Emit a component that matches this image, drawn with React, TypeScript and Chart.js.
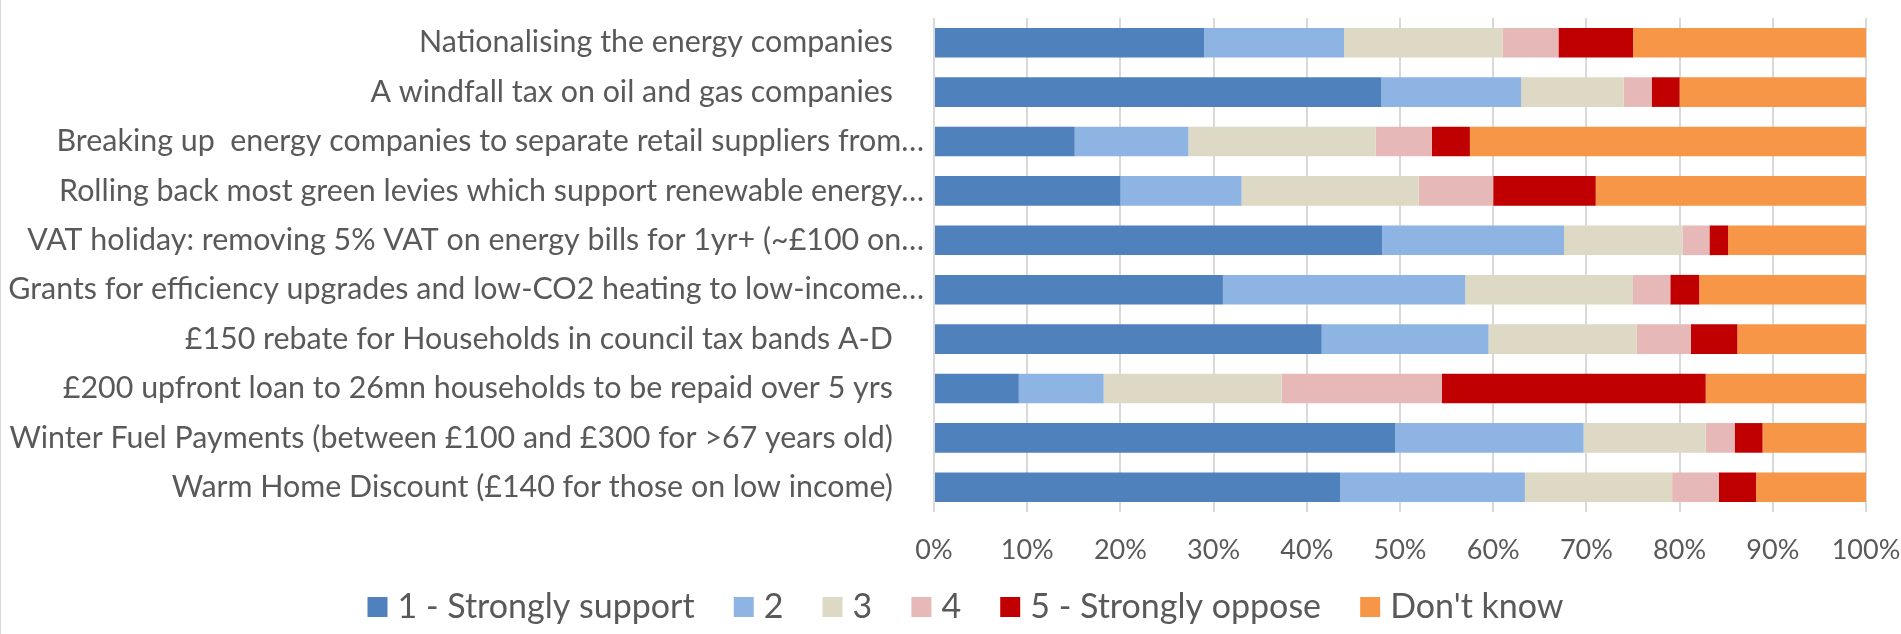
import React, { useEffect, useRef } from 'react';
import { Chart, registerables } from 'chart.js';

Chart.register(...registerables);

const categories = [
  'Nationalising the energy companies    ',
  'A windfall tax on oil and gas companies    ',
  'Breaking up  energy companies to separate retail suppliers from…',
  'Rolling back most green levies which support renewable energy…',
  'VAT holiday: removing 5% VAT on energy bills for 1yr+ (~£100 on…',
  'Grants for efficiency upgrades and low-CO2 heating to low-income…',
  '£150 rebate for Households in council tax bands A-D    ',
  '£200 upfront loan to 26mn households to be repaid over 5 yrs    ',
  'Winter Fuel Payments (between £100 and £300 for >67 years old)    ',
  'Warm Home Discount (£140 for those on low income)    ',
];

const seriesNames = ['1 - Strongly support', '2', '3', '4', '5 - Strongly oppose', "Don't know"];

const strongSupport = [29, 48, 15.1, 20, 48.1, 31, 41.6, 9.1, 49.5, 43.6];
const support = [15, 15, 12.2, 13, 19.5, 26, 17.9, 9.1, 20.2, 19.8];
const neutral = [17, 11, 20.1, 19, 12.7, 18, 15.9, 19.1, 13.1, 15.8];
const oppose = [6, 3, 6.0, 8, 2.9, 4, 5.8, 17.2, 3.1, 5.0];
const strongOppose = [8, 3, 4.1, 11, 2.0, 3.1, 5.0, 28.3, 3.0, 4.0];
const dontKnow = [25, 20, 42.5, 29, 14.8, 17.9, 13.8, 17.2, 11.1, 11.8];

const xTickValues = [0, 10, 20, 30, 40, 50, 60, 70, 80, 90, 100];

const colors = ['#4F81BD', '#8EB4E3', '#DDD9C4', '#E6B9B8', '#C00000', '#F79646'];

const FONT = 'Lato, Carlito, "Open Sans", sans-serif';
const TEXT = '#595959';

export default function App() {
  const ref = useRef<HTMLCanvasElement>(null);

  useEffect(() => {
    document.body.style.margin = '0';
    const values = [strongSupport, support, neutral, oppose, strongOppose, dontKnow];
    const defaultGen = (Chart as any).defaults.plugins.legend.labels.generateLabels;
    const legendShift = {
      id: 'legendShift',
      afterLayout(c: any) {
        const l = c.legend;
        if (l) {
          l.left += 36;
          l.right += 36;
        }
      },
    };
    const chart = new Chart(ref.current as HTMLCanvasElement, {
      type: 'bar',
      data: {
        labels: categories,
        datasets: values.map((v, i) => ({
          label: seriesNames[i],
          data: v,
          backgroundColor: colors[i],
          borderWidth: 0,
          categoryPercentage: 1,
          barPercentage: 0.6,
          pointStyle: 'rect',
        })),
      },
      plugins: [legendShift],
      options: {
        indexAxis: 'y',
        responsive: false,
        animation: false,
        layout: { padding: { top: 18, right: 35, left: 0, bottom: 0 } },
        scales: {
          x: {
            stacked: true,
            min: 0,
            max: 100,
            afterBuildTicks: (scale: any) => {
              scale.ticks = xTickValues.map((v) => ({ value: v }));
            },
            afterFit: (scale: any) => {
              scale.height = 58;
              scale.paddingLeft = 0;
              scale.paddingRight = 0;
            },
            ticks: {
              callback: (v: any) => v + '%',
              color: TEXT,
              font: { family: FONT, size: 27 },
              padding: 22,
              maxRotation: 0,
              autoSkip: false,
            },
            grid: { color: '#d9d9d9', lineWidth: 2, drawTicks: false },
            border: { display: false },
          },
          y: {
            stacked: true,
            grid: { display: false, drawTicks: false },
            border: { display: false },
            ticks: {
              color: TEXT,
              font: { family: FONT, size: 30.4 },
              padding: 10,
              autoSkip: false,
            },
            afterFit: (scale: any) => {
              scale.width = 934;
              scale.paddingTop = 0;
              scale.paddingBottom = 0;
            },
          },
        },
        plugins: {
          legend: {
            position: 'bottom',
            labels: {
              usePointStyle: true,
              boxWidth: 6,
              boxHeight: 20,
              padding: 20,
              color: TEXT,
              font: { family: FONT, size: 34 },
              generateLabels: (c: any) => {
                const items = defaultGen(c);
                items.forEach((it: any, i: number) => {
                  it.pointStyle = 'rect';
                  it.lineWidth = 0;
                  if (i < items.length - 1) it.text = it.text + '   ';
                });
                return items;
              },
            },
          },
          tooltip: { enabled: false },
        },
      },
    });
    return () => chart.destroy();
  }, []);

  return (
    <div style={{ position: 'relative', width: 1901, height: 634 }}>
      <canvas ref={ref} width={1901} height={634} style={{ display: 'block' }} />
      <div style={{ position: 'absolute', left: 0, top: 0, width: 1, height: 634, background: '#d9d9d9' }} />
    </div>
  );
}
